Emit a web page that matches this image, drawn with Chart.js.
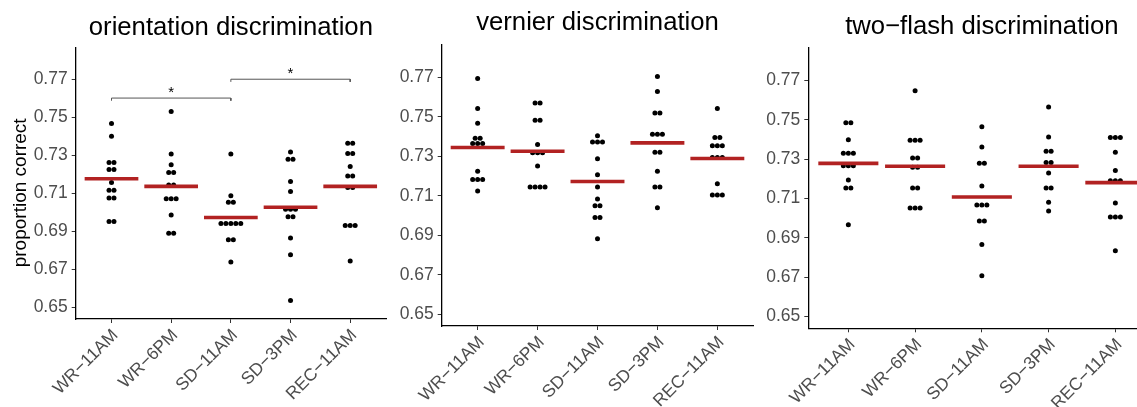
<!DOCTYPE html>
<html><head><meta charset="utf-8">
<script src="https://cdn.jsdelivr.net/npm/chart.js@4.4.0/dist/chart.umd.min.js"></script>
<style>
html,body{margin:0;padding:0;background:#fff;overflow:hidden;width:1137px;height:407px;}
canvas{position:absolute;top:0;}
</style></head><body>
<canvas id="c1" width="390" height="407" style="left:0px"></canvas>
<canvas id="c2" width="370" height="407" style="left:390px"></canvas>
<canvas id="c3" width="400" height="407" style="left:760px"></canvas>
<script>
// ---------- data ----------
const categories = ['WR\u221211AM', 'WR\u22126PM', 'SD\u221211AM', 'SD\u22123PM', 'REC\u221211AM'];
const yTickValues = [0.65, 0.67, 0.69, 0.71, 0.73, 0.75, 0.77];
const yTickLabels = ['0.65', '0.67', '0.69', '0.71', '0.73', '0.75', '0.77'];
const panelTitles = ['orientation discrimination', 'vernier discrimination', 'two\u2212flash discrimination'];
const yAxisTitle = 'proportion correct\u2002\u2002';

// orientation discrimination
const oriWR11 = [0.7467,0.7401,0.7262,0.7262,0.7225,0.7225,0.7157,0.7117,0.7117,0.7076,0.7076,0.6952,0.6952];
const oriWR6  = [0.7531,0.7307,0.7250,0.7210,0.7210,0.7144,0.7144,0.7072,0.7072,0.7072,0.6987,0.6891,0.6891];
const oriSD11 = [0.7307,0.7088,0.7053,0.7053,0.6942,0.6942,0.6942,0.6942,0.6942,0.6857,0.6857,0.6740];
const oriSD3  = [0.7317,0.7279,0.7279,0.7163,0.7110,0.7017,0.7017,0.7017,0.6977,0.6977,0.6865,0.6777,0.6537];
const oriREC  = [0.7363,0.7363,0.7310,0.7310,0.7241,0.7192,0.7192,0.7131,0.7131,0.6931,0.6931,0.6931,0.6745];
const oriMeans = [0.7177,0.7137,0.6973,0.7027,0.7137];

// vernier discrimination
const verWR11 = [0.7695,0.7542,0.7468,0.7392,0.7392,0.7365,0.7365,0.7365,0.7224,0.7182,0.7182,0.7182,0.7124];
const verWR6  = [0.7570,0.7570,0.7483,0.7483,0.7360,0.7318,0.7318,0.7318,0.7251,0.7145,0.7145,0.7145,0.7145];
const verSD11 = [0.7404,0.7373,0.7373,0.7373,0.7288,0.7207,0.7145,0.7084,0.7049,0.7049,0.6990,0.6990,0.6882];
const verSD3  = [0.7705,0.7629,0.7520,0.7520,0.7412,0.7412,0.7412,0.7321,0.7321,0.7224,0.7145,0.7145,0.7039];
const verREC  = [0.7542,0.7395,0.7395,0.7353,0.7353,0.7353,0.7294,0.7294,0.7294,0.7161,0.7104,0.7104,0.7104];
const verMeans = [0.7345,0.7326,0.7172,0.7368,0.7289];

// two-flash discrimination
const tfWR11 = [0.7485,0.7485,0.7398,0.7329,0.7329,0.7329,0.7266,0.7266,0.7266,0.7193,0.7153,0.7153,0.6966];
const tfWR6  = [0.7647,0.7395,0.7395,0.7395,0.7305,0.7305,0.7258,0.7258,0.7153,0.7153,0.7051,0.7051,0.7051];
const tfSD11 = [0.7464,0.7361,0.7278,0.7278,0.7163,0.7066,0.7066,0.7066,0.6985,0.6985,0.6866,0.6707];
const tfSD3  = [0.7564,0.7412,0.7339,0.7339,0.7283,0.7283,0.7229,0.7153,0.7153,0.7081,0.7036];
const tfREC  = [0.7410,0.7410,0.7410,0.7334,0.7242,0.7190,0.7190,0.7190,0.7076,0.7005,0.7005,0.7005,0.6834];
const tfMeans = [0.7278,0.7263,0.7107,0.7263,0.7180];

// significance brackets (orientation panel)
const sigPairs = [[0, 2], [2, 4]];
const sigLevels = [0.7601, 0.7700];
const sigLabels = ['*', '*'];

// ---------- layout ----------
const FONT = "'Liberation Sans', Arial, Helvetica, sans-serif";
const panels = [
  { id: 'c1', groups: [oriWR11, oriWR6, oriSD11, oriSD3, oriREC], means: oriMeans,
    yWidth: 75.7, padRight: 0, tTop: 12.9, tBottom: 3.9, xHeight: 88, dx: 0.083, yTitle: true, sig: true },
  { id: 'c2', groups: [verWR11, verWR6, verSD11, verSD3, verREC], means: verMeans,
    yWidth: 51.7, padRight: 6.7, tTop: 7.9, tBottom: 5.9, xHeight: 81, dx: 0.083, yTitle: false, sig: false },
  { id: 'c3', groups: [tfWR11, tfWR6, tfSD11, tfSD3, tfREC], means: tfMeans,
    yWidth: 48.3, padRight: 4.6, tTop: 11.3, tBottom: 5.5, xHeight: 78.7, dx: 0.075, yTitle: false, sig: false }
];

function dotPoints(groups, dx) {
  const pts = [];
  groups.forEach((vals, ci) => {
    const counts = new Map();
    vals.forEach(v => counts.set(v, (counts.get(v) || 0) + 1));
    counts.forEach((n, v) => {
      for (let k = 0; k < n; k++) pts.push({ x: ci + (k - (n - 1) / 2) * dx, y: v });
    });
  });
  return pts;
}
function meanSegments(means) {
  const pts = [];
  means.forEach((m, i) => {
    pts.push({ x: i - 0.45, y: m }, { x: i + 0.45, y: m }, { x: i + 0.5, y: null });
  });
  return pts;
}
function bracketSegments() {
  const pts = [];
  sigPairs.forEach((p, i) => {
    const y = sigLevels[i];
    pts.push({ x: p[0], y: y - 0.0014 }, { x: p[0], y: y }, { x: p[1], y: y }, { x: p[1], y: y - 0.0014 }, { x: p[1] + 0.01, y: null });
  });
  return pts;
}

const starPlugin = {
  id: 'stars',
  afterDatasetsDraw(chart, args, opts) {
    if (!opts.show) return;
    const { ctx, scales: { x, y } } = chart;
    ctx.save();
    ctx.fillStyle = '#000';
    ctx.font = '15px ' + FONT;
    ctx.textAlign = 'center';
    ctx.textBaseline = 'alphabetic';
    sigPairs.forEach((p, i) => {
      ctx.fillText(sigLabels[i], x.getPixelForValue((p[0] + p[1]) / 2), y.getPixelForValue(sigLevels[i]) - 1);
    });
    ctx.restore();
  }
};

panels.forEach((P, pi) => {
  const datasets = [
    { type: 'line', data: meanSegments(P.means), borderColor: '#B22222', borderWidth: 3.6,
      pointRadius: 0, showLine: true, spanGaps: false, borderCapStyle: 'butt' },
    { type: 'scatter', data: dotPoints(P.groups, P.dx), backgroundColor: '#000', borderWidth: 0, pointRadius: 2.5 }
  ];
  if (P.sig) {
    datasets.push({ type: 'line', data: bracketSegments(), borderColor: '#555', borderWidth: 1,
      pointRadius: 0, showLine: true, spanGaps: false });
  }
  new Chart(document.getElementById(P.id), {
    type: 'scatter',
    data: { datasets },
    options: {
      responsive: false, animation: false, devicePixelRatio: 1,
      layout: { padding: { left: 0, right: P.padRight, top: 0, bottom: 0 } },
      plugins: {
        legend: { display: false }, tooltip: { enabled: false },
        title: { display: true, text: panelTitles[pi], fullSize: false, color: '#000',
          font: { family: FONT, size: 25.7, weight: 'normal', lineHeight: 1.2 },
          padding: { top: P.tTop, bottom: P.tBottom } },
        stars: { show: P.sig }
      },
      scales: {
        x: {
          type: 'linear', min: -0.6, max: 4.6,
          afterBuildTicks: s => { s.ticks = categories.map((c, i) => ({ value: i })); },
          afterFit: s => { s.height = P.xHeight; },
          ticks: { autoSkip: false, minRotation: 45, maxRotation: 45, padding: 2, labelOffset: 4, color: '#4d4d4d',
            font: { family: FONT, size: 17.5 }, callback: (v) => categories[v] },
          grid: { drawOnChartArea: false, drawTicks: true, tickLength: 4, color: '#333', lineWidth: 1 },
          border: { display: true, color: '#000', width: 1.3 }
        },
        y: {
          type: 'linear', min: 0.644, max: 0.7866,
          afterBuildTicks: s => { s.ticks = yTickValues.map(v => ({ value: v })); },
          afterFit: s => { s.width = P.yWidth; },
          ticks: { padding: 4, color: '#4d4d4d', font: { family: FONT, size: 17.5 },
            callback: (v) => yTickLabels[yTickValues.indexOf(v)] },
          grid: { drawOnChartArea: false, drawTicks: true, tickLength: 4, color: '#333', lineWidth: 1 },
          border: { display: true, color: '#000', width: 1.3 },
          title: { display: P.yTitle, text: yAxisTitle, color: '#000',
            font: { family: FONT, size: 19, lineHeight: 1.2 }, padding: { top: 9, bottom: 0 } }
        }
      }
    },
    plugins: [starPlugin]
  });
});
</script>
</body></html>
